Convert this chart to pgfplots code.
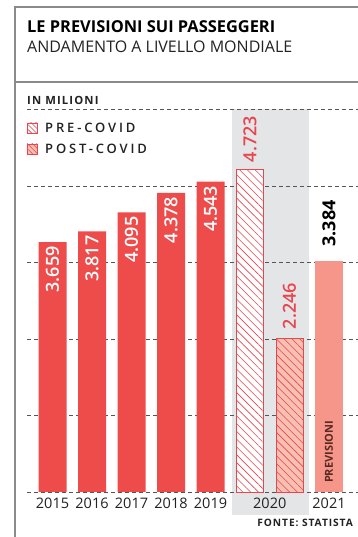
\documentclass[border=0pt]{standalone}
\usepackage{pgfplots}
\pgfplotsset{compat=1.18}
\usetikzlibrary{patterns.meta}
\usepackage{fontspec}
\setmainfont{Open Sans}
\newfontfamily\sbfont{Open Sans Semibold}
\definecolor{barred}{HTML}{EE4B4B}
\definecolor{salmon}{HTML}{F6968A}
\definecolor{postfill}{HTML}{F7C0B2}
\definecolor{band}{HTML}{E4E5E7}
\definecolor{gridc}{HTML}{555555}
\definecolor{framec}{HTML}{8A8A8A}
\definecolor{hatch}{HTML}{E8454F}
\definecolor{txt}{HTML}{222222}
\definecolor{brownt}{HTML}{5A2A22}
\begin{document}
\begin{tikzpicture}[x=1pt,y=1pt]
\path[use as bounding box] (0,0) rectangle (358,537);
\fill[white] (0,0) rectangle (358,537);
% frame
\draw[framec, line width=1.3pt] (15,0) -- (15,530) -- (358,530);
\draw[framec, line width=1.3pt] (15,455) -- (358,455);
\node[anchor=base west, inner sep=0, text=black, font=\fontsize{16.4}{18}\selectfont\bfseries] at (27,504) {LE PREVISIONI SUI PASSEGGERI};
\node[anchor=base west, inner sep=0, text=txt, font=\fontsize{16}{18}\selectfont] at (27,484) {ANDAMENTO A LIVELLO MONDIALE};
\node[anchor=base west, inner sep=0, text=txt, font=\fontsize{11.3}{13}\selectfont\bfseries\addfontfeatures{LetterSpace=10}] at (27,432) {IN MILIONI};
% gray band
\fill[band] (232,22) rectangle (309,427.5);
% grid
\foreach \k in {0,...,5} {
  \draw[gridc, line width=0.9pt, dash pattern=on 4pt off 3pt] (27,{45+76.5*\k}) -- (358,{45+76.5*\k});
}
% legend
\draw[hatch, line width=0.7pt, fill=white, postaction={pattern={Lines[angle=-45, distance=3.5pt, line width=0.6pt]}, pattern color=hatch}] (27,404) rectangle (37,414);
\draw[hatch, line width=0.7pt, fill=postfill, postaction={pattern={Lines[angle=-45, distance=3.5pt, line width=0.6pt]}, pattern color=hatch}] (27,383) rectangle (37,393);
\node[anchor=base west, inner sep=0, text=txt, font=\fontsize{13}{15}\sbfont\addfontfeatures{LetterSpace=22}] at (45,404) {PRE-COVID};
\node[anchor=base west, inner sep=0, text=txt, font=\fontsize{13}{15}\sbfont\addfontfeatures{LetterSpace=22}] at (45,383) {POST-COVID};
% source
\node[anchor=base east, inner sep=0, text=txt, font=\fontsize{10.2}{12}\selectfont\bfseries\addfontfeatures{LetterSpace=9}] at (353,10) {FONTE: STATISTA};
\begin{axis}[
  at={(0pt,45pt)}, anchor=south west, scale only axis,
  width=358pt, height=492pt,
  xmin=0, xmax=358, ymin=0, ymax=7.2035,
  clip=false,
  axis line style={draw=none},
  ytick=\empty,
  xtick={52.5,92,131.5,171,210.5,269.75,329},
  xticklabels={2015,2016,2017,2018,2019,2020,2021},
  major tick length=0pt,
  xticklabel style={font=\fontsize{14.5}{16}\selectfont, text=txt, inner sep=2pt, yshift=-4pt},
]
\addplot[ybar, bar width=28, bar shift=0pt, fill=barred, draw=none,
  point meta=explicit symbolic, nodes near coords,
  every node near coord/.append style={rotate=90, anchor=east, text=white, inner sep=4pt, font=\fontsize{18}{20}\sbfont}]
  coordinates {(52.5,3.659)[3.659] (92,3.817)[3.817] (131.5,4.095)[4.095] (171,4.378)[4.378] (210.5,4.543)[4.543]};
\addplot[ybar, bar width=27, bar shift=0pt, fill=white, draw=hatch, line width=0.8pt,
  postaction={pattern={Lines[angle=-45, distance=5.5pt, line width=0.6pt]}, pattern color=hatch},
  point meta=explicit symbolic, nodes near coords,
  every node near coord/.append style={rotate=90, anchor=west, text=hatch, inner sep=7pt, font=\fontsize{18}{20}\sbfont}]
  coordinates {(250,4.723)[4.723]};
\addplot[ybar, bar width=27, bar shift=0pt, fill=postfill, draw=hatch, line width=0.8pt,
  postaction={pattern={Lines[angle=-45, distance=5.5pt, line width=0.6pt]}, pattern color=hatch},
  point meta=explicit symbolic, nodes near coords,
  every node near coord/.append style={rotate=90, anchor=west, text=hatch, inner sep=9pt, font=\fontsize{18}{20}\sbfont}]
  coordinates {(289.5,2.246)[2.246]};
\addplot[ybar, bar width=28, bar shift=0pt, fill=salmon, draw=none,
  point meta=explicit symbolic, nodes near coords,
  every node near coord/.append style={rotate=90, anchor=west, text=black, inner sep=14pt, font=\fontsize{18}{20}\selectfont\bfseries}]
  coordinates {(329,3.384)[3.384]};
\node[rotate=90, anchor=west, inner sep=0, text=brownt, font=\fontsize{11}{13}\selectfont\bfseries] at (axis cs:329,0.13) {PREVISIONI};
\end{axis}
\end{tikzpicture}
\end{document}
